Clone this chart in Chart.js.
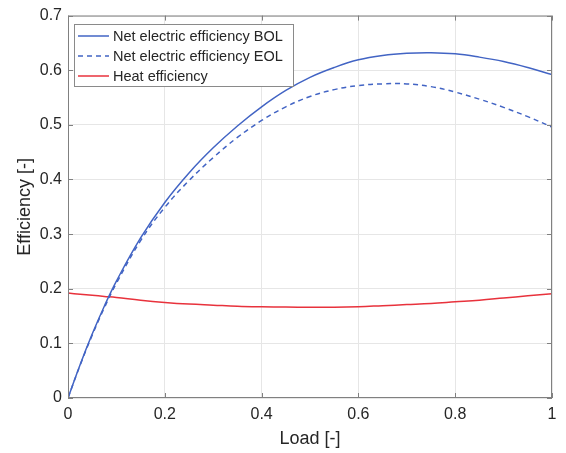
<!DOCTYPE html>
<html>
<head>
<meta charset="utf-8">
<script src="https://cdn.jsdelivr.net/npm/chart.js@4/dist/chart.umd.min.js"></script>
<style>
  html, body { margin: 0; padding: 0; background: #fff; }
  #wrap { width: 566px; height: 453px; }
</style>
</head>
<body>
<div id="wrap"><canvas id="effChart" width="566" height="453"></canvas></div>
<script>
// load fraction where each curve is sampled
const loadX = [0, 0.025, 0.05, 0.075, 0.1, 0.15, 0.2, 0.25, 0.3, 0.35, 0.4, 0.45,
  0.5, 0.55, 0.6, 0.65, 0.7, 0.75, 0.8, 0.85, 0.9, 0.95, 1.0];

const elecBOL = [0, 0.061, 0.117, 0.168, 0.214, 0.293, 0.358, 0.412, 0.458, 0.498, 0.533, 0.563,
  0.587, 0.605, 0.619, 0.627, 0.631, 0.632, 0.630, 0.624, 0.616, 0.605, 0.592];

const elecEOL = [0, 0.060, 0.115, 0.165, 0.210, 0.288, 0.349, 0.398, 0.440, 0.477, 0.508, 0.533,
  0.552, 0.5645, 0.572, 0.575, 0.575, 0.570, 0.560, 0.547, 0.532, 0.515, 0.496];

const heatEff = [0.192, 0.190, 0.188, 0.186, 0.184, 0.179, 0.175, 0.172, 0.170, 0.168, 0.167, 0.1665,
  0.166, 0.166, 0.167, 0.169, 0.171, 0.173, 0.176, 0.179, 0.183, 0.187, 0.191];

const seriesNames = ["Net electric efficiency BOL", "Net electric efficiency EOL", "Heat efficiency"];
const xTicks = [0, 0.2, 0.4, 0.6, 0.8, 1];
const yTicks = [0, 0.1, 0.2, 0.3, 0.4, 0.5, 0.6, 0.7];

const BLUE = "#4264c4";
const RED = "#e8323c";
const AXIS = "#808080";
const TEXT = "#262626";
const FONT = "'Liberation Sans', Arial, sans-serif";

function toPoints(ys) {
  return loadX.map((x, i) => ({ x: x, y: ys[i] }));
}

// box around the axes plus inward ticks, and the boxed legend top-left
const frameAndLegend = {
  id: 'frameAndLegend',
  afterDraw(chart) {
    const ctx = chart.ctx;
    const a = chart.chartArea;
    const xs = chart.scales.x, ys = chart.scales.y;
    ctx.save();
    ctx.strokeStyle = AXIS;
    ctx.lineWidth = 1;
    ctx.strokeRect(a.left + 0.5, a.top + 0.5, a.right - a.left - 1, a.bottom - a.top - 1);
    ctx.beginPath();
    xTicks.forEach(v => {
      const px = Math.round(xs.getPixelForValue(v)) + 0.5;
      ctx.moveTo(px, a.bottom); ctx.lineTo(px, a.bottom - 5);
      ctx.moveTo(px, a.top); ctx.lineTo(px, a.top + 5);
    });
    yTicks.forEach(v => {
      const py = Math.round(ys.getPixelForValue(v)) + 0.5;
      ctx.moveTo(a.left, py); ctx.lineTo(a.left + 5, py);
      ctx.moveTo(a.right, py); ctx.lineTo(a.right - 5, py);
    });
    ctx.stroke();

    // legend
    const bx = 74.5, by = 24.5, bw = 219, bh = 62;
    ctx.fillStyle = "#fff";
    ctx.fillRect(bx, by, bw, bh);
    ctx.strokeStyle = "#8a8a8a";
    ctx.strokeRect(bx, by, bw, bh);
    ctx.font = "14.5px " + FONT;
    ctx.textBaseline = "middle";
    chart.data.datasets.forEach((ds, i) => {
      const cy = 36 + i * 20;
      ctx.strokeStyle = ds.borderColor;
      ctx.lineWidth = 1.5;
      ctx.setLineDash(ds.borderDash || []);
      ctx.beginPath();
      ctx.moveTo(78, cy); ctx.lineTo(109, cy);
      ctx.stroke();
      ctx.setLineDash([]);
      ctx.fillStyle = TEXT;
      ctx.fillText(ds.label, 113, cy + 0.5);
    });
    ctx.restore();
  }
};

const tickFmt = v => String(+Number(v).toFixed(1));

new Chart(document.getElementById('effChart'), {
  type: 'line',
  data: {
    datasets: [
      { label: seriesNames[0], data: toPoints(elecBOL), borderColor: BLUE, borderWidth: 1.5 },
      { label: seriesNames[1], data: toPoints(elecEOL), borderColor: BLUE, borderWidth: 1.5, borderDash: [5, 4] },
      { label: seriesNames[2], data: toPoints(heatEff), borderColor: RED, borderWidth: 1.5 }
    ]
  },
  options: {
    responsive: false,
    animation: false,
    layout: { padding: { left: 0, right: 14, top: 15, bottom: 0 } },
    elements: {
      point: { radius: 0 },
      line: { tension: 0.4, fill: false }
    },
    plugins: {
      legend: { display: false },
      tooltip: { enabled: false }
    },
    scales: {
      x: {
        type: 'linear',
        min: 0, max: 1,
        afterBuildTicks: s => { s.ticks = xTicks.map(v => ({ value: v })); },
        afterFit: s => { s.height = 55; },
        ticks: { padding: 7, color: TEXT, font: { family: FONT, size: 16 }, callback: tickFmt, maxRotation: 0 },
        grid: { color: "#e6e6e6", drawTicks: false },
        border: { display: false },
        title: { display: true, text: "Load [-]", color: TEXT, font: { family: FONT, size: 18 }, padding: { top: 0, bottom: 3 } }
      },
      y: {
        min: 0, max: 0.7,
        afterBuildTicks: s => { s.ticks = yTicks.map(v => ({ value: v })); },
        afterFit: s => { s.width = 68; },
        ticks: { padding: 6, color: TEXT, font: { family: FONT, size: 16 }, callback: tickFmt },
        grid: { color: "#e6e6e6", drawTicks: false },
        border: { display: false },
        title: { display: true, text: "Efficiency [-]", color: TEXT, font: { family: FONT, size: 18 }, padding: { top: 14, bottom: 0 } }
      }
    }
  },
  plugins: [frameAndLegend]
});
</script>
</body>
</html>
